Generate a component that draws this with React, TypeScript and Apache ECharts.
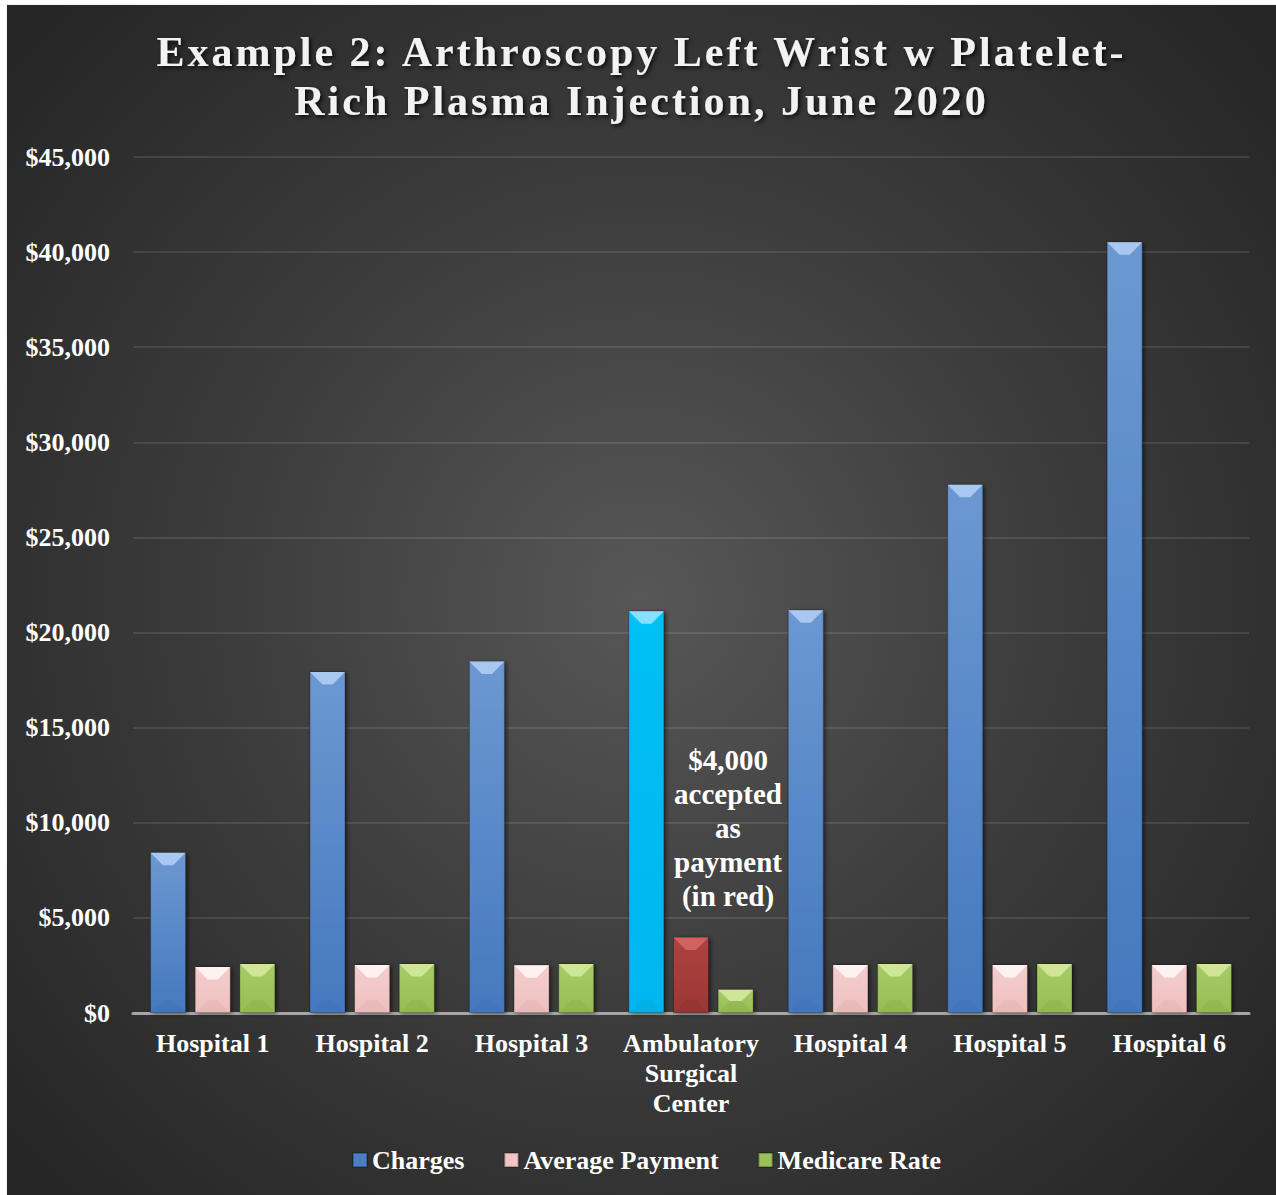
import React, { useEffect, useRef } from 'react';
import * as echarts from 'echarts';

// ---------- data ----------
const categories = [
  'Hospital 1',
  'Hospital 2',
  'Hospital 3',
  'Ambulatory\nSurgical\nCenter',
  'Hospital 4',
  'Hospital 5',
  'Hospital 6',
];
const charges = [8450, 17950, 18500, 21150, 21200, 27800, 40550];
const averagePayment = [2450, 2550, 2530, 4000, 2550, 2550, 2550];
const medicareRate = [2600, 2600, 2600, 1250, 2600, 2600, 2600];
const seriesNames = ['Charges', 'Average Payment', 'Medicare Rate'];
const yMin = 0;
const yMax = 45000;
const yInterval = 5000;
const highlightIndex = 3; // Ambulatory Surgical Center
const annotationWords = ['accepted', 'as', 'payment', '(in red)'];
const titleLines = [
  'Example 2: Arthroscopy Left Wrist w Platelet-',
  'Rich Plasma Injection, June 2020',
];

// ---------- styles ----------
const FONT = '"Liberation Serif", "Times New Roman", serif';
const BAR_W = 36;
const GAP = 8.64;
const SLOT = BAR_W + GAP;
const BEVEL = 13;

type Pal = { top: string; bottom: string; cap: string; foot: string; legend: string };
const bluePal: Pal = { top: '#6c98d2', bottom: '#4479bf', cap: '#a9c8f1', foot: '#3d6dad', legend: '#4a7fc4' };
const cyanPal: Pal = { top: '#00c0f4', bottom: '#00b6ee', cap: '#86e0ff', foot: '#00a2d6', legend: '#00b8f0' };
const pinkPal: Pal = { top: '#f4cdcd', bottom: '#efc0c0', cap: '#fdf1f1', foot: '#dca9a9', legend: '#f2c4c4' };
const redPal: Pal = { top: '#ad4340', bottom: '#9c3735', cap: '#d0625f', foot: '#862e2c', legend: '#a33b39' };
const greenPal: Pal = { top: '#a8cb67', bottom: '#96bd52', cap: '#cfe597', foot: '#83a846', legend: '#9bc25a' };

const grad = (p: Pal) =>
  new echarts.graphic.LinearGradient(0, 0, 0, 1, [
    { offset: 0, color: p.top },
    { offset: 1, color: p.bottom },
  ]);

const fmtMoney = (v: number) => '$' + v.toLocaleString('en-US');

const makeBar = (name: string, values: number[], pal: Pal, hiPal?: Pal) => ({
  type: 'bar',
  name,
  barWidth: BAR_W,
  barGap: '24%',
  z: 2,
  itemStyle: {
    color: grad(pal),
    borderColor: 'rgba(0,0,0,0.25)',
    borderWidth: 1,
    shadowColor: 'rgba(0,0,0,0.55)',
    shadowBlur: 4,
    shadowOffsetX: 2,
    shadowOffsetY: 1,
  },
  data: values.map((v, i) => ({
    value: v,
    itemStyle: { color: grad(i === highlightIndex && hiPal ? hiPal : pal) },
  })),
});

const makeCaps = (values: number[], slot: number, pal: Pal, hiPal?: Pal) => ({
  type: 'custom',
  silent: true,
  z: 3,
  data: values.map((v, i) => [i, v]),
  encode: { x: 0, y: 1 },
  renderItem: (params: any, api: any) => {
    const i = api.value(0);
    const v = api.value(1);
    const top = api.coord([i, v]);
    const bot = api.coord([i, 0]);
    const cx = top[0] + slot * SLOT;
    const hw = BAR_W / 2;
    const h = bot[1] - top[1];
    const b = Math.min(BEVEL, h / 2);
    const p = i === highlightIndex && hiPal ? hiPal : pal;
    return {
      type: 'group',
      children: [
        {
          type: 'polygon',
          shape: {
            points: [
              [cx - hw + 0.5, top[1] + 0.5],
              [cx + hw - 0.5, top[1] + 0.5],
              [cx + hw - b, top[1] + b],
              [cx - hw + b, top[1] + b],
            ],
          },
          style: { fill: p.cap },
        },
        {
          type: 'polygon',
          shape: {
            points: [
              [cx - hw + 0.5, bot[1]],
              [cx + hw - 0.5, bot[1]],
              [cx + hw - b, bot[1] - b],
              [cx - hw + b, bot[1] - b],
            ],
          },
          style: { fill: p.foot, opacity: 0.3 },
        },
      ],
    };
  },
});

export default function App() {
  const ref = useRef<HTMLDivElement>(null);

  useEffect(() => {
    if (!ref.current) return;
    const chart = echarts.init(ref.current, null, { renderer: 'svg' });
    const annotation = [fmtMoney(averagePayment[highlightIndex]), ...annotationWords].join('\n');

    chart.setOption({
      animation: false,
      backgroundColor: 'transparent',
      title: {
        text: titleLines.join('\n'),
        left: 'center',
        top: 22,
        padding: 0,
        textStyle: {
          fontFamily: FONT,
          fontWeight: 'bold',
          fontSize: 42,
          lineHeight: 49,
          color: '#f2f2f2',
          textShadowColor: 'rgba(0,0,0,0.8)',
          textShadowBlur: 4,
          textShadowOffsetX: 2,
          textShadowOffsetY: 2,
        },
      },
      legend: {
        data: seriesNames.map((n, k) => ({
          name: n,
          itemStyle: { color: [bluePal, pinkPal, greenPal][k].legend },
        })),
        left: 345,
        top: 1142,
        icon: 'rect',
        itemWidth: 14,
        itemHeight: 14,
        itemGap: 39,
        padding: 0,
        textStyle: {
          fontFamily: FONT,
          fontWeight: 'bold',
          fontSize: 26,
          color: '#ffffff',
        },
      },
      grid: {
        left: 126,
        right: 27,
        top: 152,
        bottom: 182,
        containLabel: false,
        outerBoundsMode: 'none',
      },
      xAxis: {
        type: 'category',
        data: categories,
        axisLine: { show: true, lineStyle: { color: '#a6a6a6', width: 3 } },
        axisTick: { show: false },
        axisLabel: {
          interval: 0,
          margin: 15,
          fontFamily: FONT,
          fontWeight: 'bold',
          fontSize: 26,
          lineHeight: 30,
          color: '#ffffff',
        },
      },
      yAxis: {
        type: 'value',
        min: yMin,
        max: yMax,
        interval: yInterval,
        axisLine: { show: false },
        axisTick: { show: false },
        splitLine: { lineStyle: { color: 'rgba(255,255,255,0.1)', width: 2 } },
        axisLabel: {
          margin: 23,
          fontFamily: FONT,
          fontWeight: 'bold',
          fontSize: 26,
          color: '#ffffff',
          formatter: (v: number) => fmtMoney(v),
        },
      },
      series: [
        makeBar(seriesNames[0], charges, bluePal, cyanPal),
        {
          ...makeBar(seriesNames[1], averagePayment, pinkPal, redPal),
          data: averagePayment.map((v, i) => ({
            value: v,
            itemStyle: { color: grad(i === highlightIndex ? redPal : pinkPal) },
            label:
              i === highlightIndex
                ? {
                    show: true,
                    position: 'top',
                    distance: 24,
                    offset: [37, 0],
                    formatter: annotation,
                    fontFamily: FONT,
                    fontWeight: 'bold',
                    fontSize: 29,
                    lineHeight: 34,
                    color: '#ffffff',
                    align: 'center',
                  }
                : { show: false },
          })),
        },
        makeBar(seriesNames[2], medicareRate, greenPal),
        makeCaps(charges, -1, bluePal, cyanPal),
        makeCaps(averagePayment, 0, pinkPal, redPal),
        makeCaps(medicareRate, 1, greenPal),
      ],
    });

    // widen letter spacing of the title like the original
    const texts = ref.current.querySelectorAll('text');
    texts.forEach((t) => {
      const c = (t.textContent || '').trim();
      if (titleLines.includes(c)) (t as SVGTextElement).style.letterSpacing = '3px';
    });

    return () => chart.dispose();
  }, []);

  return (
    <div
      ref={ref}
      style={{
        position: 'absolute',
        left: 7,
        top: 5,
        width: 1269,
        height: 1190,
        background:
          'radial-gradient(circle 830px at 50% 50%, #575757 0%, #3c3c3c 50%, #262626 100%)',
        boxShadow: '1px 1px 3px rgba(0,0,0,0.3)',
      }}
    />
  );
}
